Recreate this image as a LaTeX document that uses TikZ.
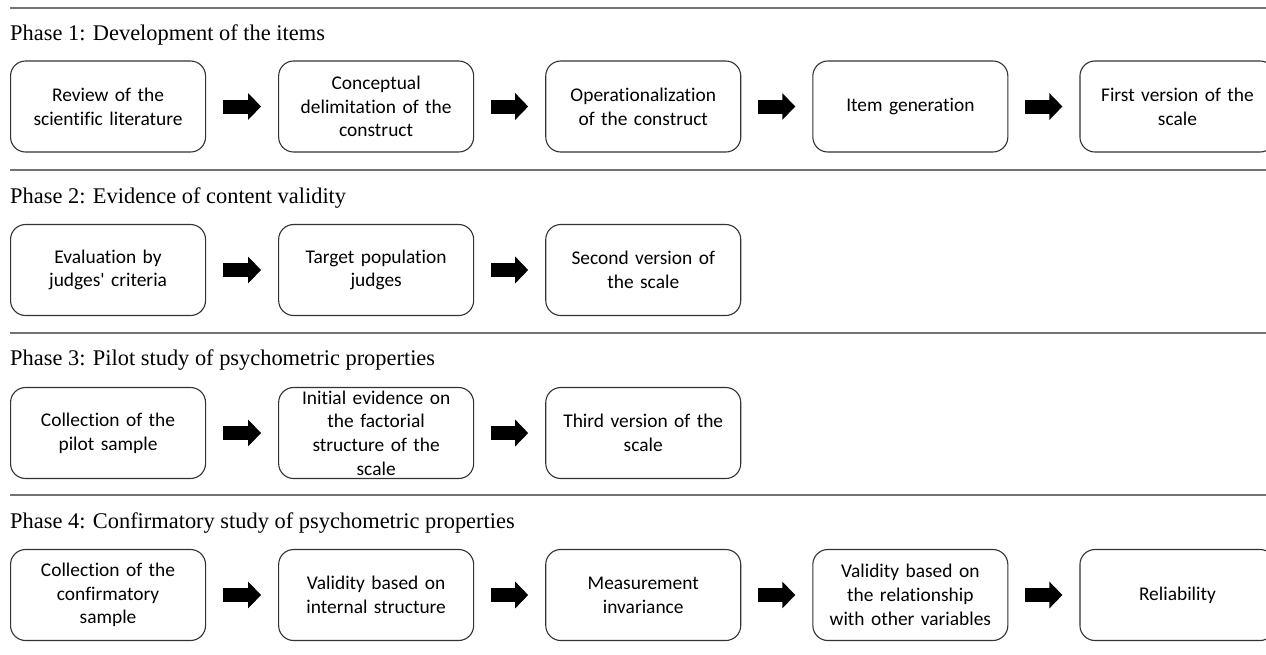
\documentclass[tikz,border=0pt]{standalone}
\usepackage{fontspec}
\setmainfont{Liberation Serif}
\newfontfamily\stagefont[Ligatures=NoCommon, WordSpace=1.3]{Carlito}
\usepackage{xcolor}
\usepackage{tikz}
\usetikzlibrary{arrows.meta, positioning}

\begin{document}
\begin{tikzpicture}[x=1pt, y=-1pt,
        stage/.style={rectangle, draw=black!80, line width=1.1pt, rounded corners=15pt, text width=190pt, align=center, minimum width=195pt, minimum height=91pt, inner sep=1pt, font=\stagefont\fontsize{19.4}{23.7}\selectfont},
        flow/.style={line width=14pt, -{Triangle[length=13pt, width=26pt]}, shorten <=17pt, shorten >=17pt},
        phase/.style={anchor=base west, inner sep=0pt, font=\fontsize{22.4}{26}\selectfont},
        rule/.style={draw=black!55, line width=1.5pt}]
        \useasboundingbox (0,0) rectangle (1266,654);

        % separators
        \draw[rule] (10,8) -- (1266,8);
        \draw[rule] (10,170) -- (1266,170);
        \draw[rule] (10,333) -- (1266,333);
        \draw[rule] (10,495) -- (1266,495);

        % phase 1
        \node (t1) [phase] at (10,40) {Phase 1: Development of the items};
        \node (p1a) [stage, anchor=west] at (10,106.5) {Review of the\\scientific literature};
        \node (p1b) [stage, right=72pt of p1a] {Conceptual\\delimitation of the\\construct};
        \node (p1c) [stage, right=71pt of p1b] {Operationalization\\of the construct};
        \node (p1d) [stage, right=71pt of p1c] {Item generation};
        \node (p1e) [stage, right=71pt of p1d] {First version of the\\scale};

        \draw[flow] (p1a) -- (p1b);
        \draw[flow] (p1b) -- (p1c);
        \draw[flow] (p1c) -- (p1d);
        \draw[flow] (p1d) -- (p1e);

        % phase 2
        \node (t2) [phase] at (10,203) {Phase 2: Evidence of content validity};
        \node (p2a) [stage, anchor=west] at (10,270) {Evaluation by\\judges' criteria};
        \node (p2b) [stage, right=72pt of p2a] {Target population\\judges};
        \node (p2c) [stage, right=71pt of p2b] {Second version of\\the scale};

        \draw[flow] (p2a) -- (p2b);
        \draw[flow] (p2b) -- (p2c);

        % phase 3
        \node (t3) [phase] at (10,365) {Phase 3: Pilot study of psychometric properties};
        \node (p3a) [stage, anchor=west] at (10,433) {Collection of the\\pilot sample};
        \node (p3b) [stage, right=72pt of p3a] {Initial evidence on\\the factorial\\structure of the\\scale};
        \node (p3c) [stage, right=71pt of p3b] {Third version of the\\scale};

        \draw[flow] (p3a) -- (p3b);
        \draw[flow] (p3b) -- (p3c);

        % phase 4
        \node (t4) [phase] at (10,528) {Phase 4: Confirmatory study of psychometric properties};
        \node (p4a) [stage, anchor=west] at (10,595) {Collection of the\\confirmatory\\sample};
        \node (p4b) [stage, right=72pt of p4a] {Validity based on\\internal structure};
        \node (p4c) [stage, right=71pt of p4b] {Measurement\\invariance};
        \node (p4d) [stage, right=71pt of p4c] {Validity based on\\the relationship\\with other variables};
        \node (p4e) [stage, right=71pt of p4d] {Reliability};

        \draw[flow] (p4a) -- (p4b);
        \draw[flow] (p4b) -- (p4c);
        \draw[flow] (p4c) -- (p4d);
        \draw[flow] (p4d) -- (p4e);
    \end{tikzpicture}
\end{document}
